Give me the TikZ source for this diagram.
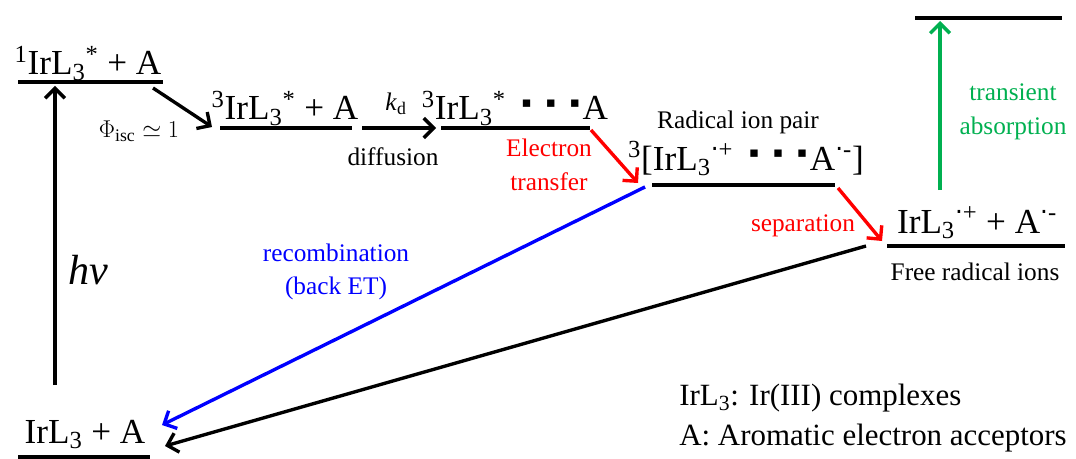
\documentclass[tikz,border=0pt]{standalone}
\usepackage{fontspec}
\setmainfont{Liberation Serif}
\newfontfamily\symfont{DejaVu Sans}
\usetikzlibrary{arrows.meta}
\definecolor{tagreen}{RGB}{0,176,80}
\newcommand{\IrL}{IrL\textsubscript{3}}
\newcommand{\rad}[1]{\textsuperscript{{\symfont ·}#1}}
\newcommand{\sqd}{\raisebox{9pt}{\symfont\fontsize{10.5}{11}\selectfont ▪}}
\newcommand{\sqdots}{\hspace{5pt}\sqd\hspace{10pt}\sqd\hspace{10pt}\sqd\hspace{2pt}}

\begin{document}
\begin{tikzpicture}[
  x=0.025cm, y=-0.025cm,
  lvl/.style   = {line width=3.2pt},
  arr/.style   = {-{Straight Barb[length=7pt,width=14pt]}, line width=2.4pt},
  big/.style   = {font=\fontsize{25}{28}\selectfont, inner sep=0pt, anchor=base},
  small/.style = {font=\fontsize{18}{24}\selectfont, inner sep=0pt, align=center},
]
  \useasboundingbox (0,0) rectangle (1076,459);

  % energy levels
  \draw[lvl] (18,82)   -- (163,82);
  \draw[lvl] (220,128) -- (352,128);
  \draw[lvl] (441,128) -- (590,128);
  \draw[lvl] (652,185) -- (835,185);
  \draw[lvl] (887,246) -- (1065,246);
  \draw[lvl] (915,18)  -- (1062,18);
  \draw[lvl] (18,457)  -- (150,457);

  \node[big] (sing)  at (88,75)   {\textsuperscript{1}\IrL\textsuperscript{*} + A};
  \node[big] (trip)  at (285,120) {\textsuperscript{3}\IrL\textsuperscript{*} + A};
  \node[big] (encp)  at (515,120) {\textsuperscript{3}\IrL\textsuperscript{*} \sqdots A};
  \node[big] (pair)  at (746,170) {\textsuperscript{3}[\IrL\rad{+} \sqdots A\rad{-}]};
  \node[big] (free)  at (977,233) {\IrL\rad{+} + A\rad{-}};
  \node[big] (gnd)   at (85,443)  {\IrL{} + A};

  % labels
  \node[small] (rip)  at (738,122) {Radical ion pair};
  \node[small] (fri)  at (975,272) {Free radical ions};
  \node[small] (isc)  at (139,131) {$\Phi_{\mathrm{isc}}\simeq 1$};
  \node[small] (kd)   at (396,104) {\textit{k}\textsubscript{d}};
  \node[small] (dif)  at (393,157) {diffusion};
  \node[small, red] (etl) at (549,165) {Electron\\transfer};
  \node[small, red] (sepl) at (803,226) {separation};
  \node[small, tagreen] (tal) at (1013,112) {transient\\absorption};
  \node[small, blue] (recl) at (336,272) {recombination\\(back ET)};
  \node[font=\fontsize{30}{32}\selectfont\itshape] (hv) at (88,270) {hv};
  \node[font=\fontsize{22}{28}\selectfont, align=left, anchor=west, inner sep=0pt]
    (leg) at (679,418) {\IrL: Ir(III) complexes\\A: Aromatic electron acceptors};

  % arrow ends
  \coordinate (exc0) at (55,385);  \coordinate (exc1) at (55,86);
  \coordinate (isc0) at (153,88);  \coordinate (isc1) at (212,127);
  \coordinate (kd0)  at (362,128); \coordinate (kd1)  at (436,128);
  \coordinate (et0)  at (591,130); \coordinate (et1)  at (638,183);
  \coordinate (sep0) at (838,188); \coordinate (sep1) at (882,241);
  \coordinate (ta0)  at (940,190); \coordinate (ta1)  at (940,21);
  \coordinate (rec0) at (645,187); \coordinate (rec1) at (162,425);
  \coordinate (bk0)  at (866,246); \coordinate (bk1)  at (165,446);

  \draw[arr] (exc0) -- (exc1);
  \draw[arr] (isc0) -- (isc1);
  \draw[arr] (kd0)  -- (kd1);
  \draw[arr, red] (et0)  -- (et1);
  \draw[arr, red] (sep0) -- (sep1);
  \draw[arr, tagreen] (ta0) -- (ta1);
  \draw[arr, blue] (rec0) -- (rec1);
  \draw[arr] (bk0) -- (bk1);
\end{tikzpicture}
\end{document}
